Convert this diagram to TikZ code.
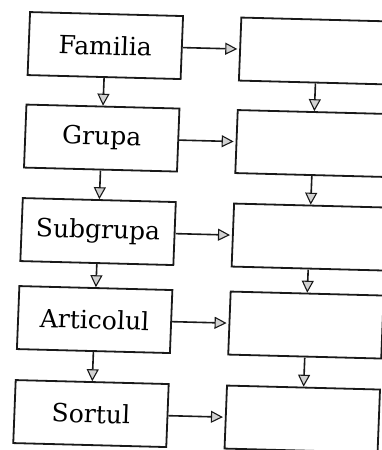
\documentclass[tikz,border=0pt]{standalone}
\usepackage{fontspec}
\setmainfont{DejaVu Serif}
\usetikzlibrary{arrows.meta}
\tikzset{
  box/.style={draw=black!90, line width=1.8pt, minimum width=153pt, minimum height=63pt,
    inner sep=0pt, transform shape, font=\fontsize{25}{30}\selectfont},
  arr/.style={draw=black!90, line width=1.6pt,
    -{Triangle[length=12pt, width=12pt, fill=gray!35, line width=1.1pt]}},
}
\begin{document}
\begin{tikzpicture}[x=1pt, y=-1pt]
  \useasboundingbox (0,0) rectangle (382,450);
  \fill[white] (0,0) rectangle (382,450);
  \clip (0,0) rectangle (382,450);
  \begin{scope}[cm={1,-0.026,0.039,1,(8.8pt,5pt)}]
    % left column
    \node[box] (l1) at (98.4,48)    {Familia};
    \node[box] (l2) at (98.4,140.5) {Grupa};
    \node[box] (l3) at (98.4,234)   {Subgrupa};
    \node[box] (l4) at (98.4,322)   {Articolul};
    \node[box] (l5) at (98.4,416)   {Sortul};
    % right column
    \node[box] (r1) at (309.7,48)    {};
    \node[box] (r2) at (309.7,140.5) {};
    \node[box] (r3) at (309.7,234)   {};
    \node[box] (r4) at (309.7,322)   {};
    \node[box] (r5) at (309.7,416)   {};
    % vertical arrows
    \foreach \a/\b in {l1/l2,l2/l3,l3/l4,l4/l5,r1/r2,r2/r3,r3/r4,r4/r5}
      \draw[arr] (\a.south) -- (\b.north);
    % horizontal arrows
    \foreach \i in {1,...,5}
      \draw[arr, shorten >=2pt] (l\i.east) -- (r\i.west);
  \end{scope}
\end{tikzpicture}
\end{document}
